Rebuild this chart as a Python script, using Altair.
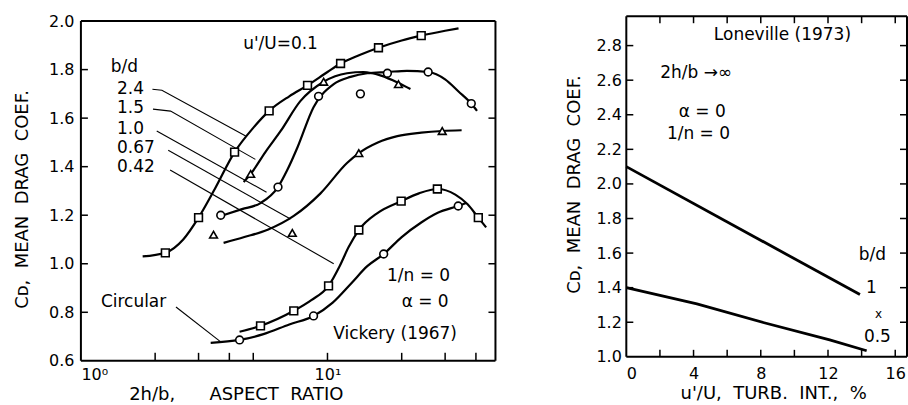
import altair as alt
import pandas as pd

FONT = "DejaVu Sans"
NB = "\u00a0"  # non-collapsing space used to widen the lettering gaps

# ======================= LEFT PANEL : Vickery (1967) =======================
# smooth fitted curves  (2h/b aspect ratio, mean drag coefficient)
c24_ar = [1.78, 2.2, 2.6, 3.0, 3.5, 4.2, 5.0, 5.8, 7.0, 8.3, 10.0, 11.3, 13.5, 16.1, 20.0, 24.0, 30.0, 34.0]
c24_cd = [1.03, 1.045, 1.10, 1.19, 1.31, 1.46, 1.56, 1.63, 1.69, 1.735, 1.79, 1.825, 1.86, 1.89, 1.92, 1.94, 1.96, 1.97]
c15_ar = [4.57, 4.88, 5.6, 6.45, 7.76, 9.65, 12.0, 14.0, 16.5, 19.4, 21.7]
c15_cd = [1.337, 1.37, 1.46, 1.546, 1.67, 1.75, 1.785, 1.79, 1.775, 1.745, 1.72]
c10_ar = [3.69, 4.5, 5.35, 6.3, 6.9, 7.56, 8.78, 10.6, 12.4, 14.5, 17.5, 21.0, 25.6, 30.0, 34.0, 38.3, 40.4]
c10_cd = [1.197, 1.225, 1.25, 1.316, 1.39, 1.48, 1.645, 1.74, 1.77, 1.785, 1.79, 1.795, 1.79, 1.76, 1.71, 1.66, 1.63]
c067_ar = [3.79, 4.6, 5.72, 7.3, 9.37, 12.0, 13.4, 16.0, 19.2, 24.0, 29.2, 35.0]
c067_cd = [1.086, 1.11, 1.14, 1.197, 1.29, 1.415, 1.456, 1.50, 1.526, 1.54, 1.547, 1.55]
c042_ar = [4.4, 5.35, 7.3, 8.6, 10.1, 11.2, 12.2, 13.4, 16.0, 19.9, 23.5, 27.9, 33.0, 37.0, 40.9, 44.0]
c042_cd = [0.72, 0.744, 0.806, 0.85, 0.909, 0.99, 1.07, 1.139, 1.21, 1.258, 1.29, 1.308, 1.285, 1.245, 1.19, 1.15]
ccirc_ar = [3.36, 4.4, 5.5, 7.0, 8.78, 10.5, 12.5, 14.5, 16.9, 20.0, 24.0, 28.0, 33.9, 36.5]
ccirc_cd = [0.674, 0.686, 0.71, 0.75, 0.785, 0.84, 0.92, 0.99, 1.04, 1.11, 1.17, 1.21, 1.238, 1.25]

# measured points (open symbols)
sq_ar = [2.2, 3.0, 4.2, 5.8, 8.3, 11.3, 16.1, 24.0, 5.35, 7.3, 10.1, 13.4, 19.9, 27.9, 40.9]
sq_cd = [1.045, 1.19, 1.46, 1.63, 1.735, 1.825, 1.89, 1.94, 0.744, 0.806, 0.909, 1.139, 1.258, 1.308, 1.19]
tri_ar = [4.88, 9.65, 19.4, 3.45, 7.2, 13.4, 29.2]
tri_cd = [1.37, 1.75, 1.74, 1.12, 1.127, 1.456, 1.547]
cir_ar = [3.69, 6.3, 9.2, 13.6, 17.5, 25.6, 38.3, 4.4, 8.78, 16.9, 33.9]
cir_cd = [1.2, 1.316, 1.69, 1.70, 1.785, 1.79, 1.66, 0.686, 0.785, 1.04, 1.238]

# b/d labels and their leader lines
bd_labels = ["2.4", "1.5", "1.0", "0.67", "0.42"]
bd_lab_ar = [1.40, 1.40, 1.40, 1.40, 1.40]
bd_lab_cd = [1.719, 1.641, 1.555, 1.477, 1.398]
lead_id = ["2.4", "2.4", "2.4", "1.5", "1.5", "1.5", "1.0", "1.0", "0.67", "0.67", "0.42", "0.42", "circ", "circ"]
lead_ar = [1.95, 2.13, 4.66, 1.96, 2.31, 5.1, 2.03, 5.66, 2.26, 7.08, 2.3, 10.6, 2.43, 3.69]
lead_cd = [1.719, 1.715, 1.526, 1.637, 1.629, 1.43, 1.547, 1.295, 1.468, 1.184, 1.386, 1.0, 0.822, 0.678]

# other annotations in the left panel
ltxt_left = ["b/d", "Circular"]
ltxt_left_ar = [1.32, 1.205]
ltxt_left_cd = [1.81, 0.843]
ltxt_mid = ["u'/U=0.1", "1/n = 0", "α = 0", "Vickery (1967)"]
ltxt_mid_ar = [6.45, 23.4, 24.9, 18.8]
ltxt_mid_cd = [1.905, 0.95, 0.843, 0.711]

L_AR = [1, 48]
L_CD = [0.6, 2.02]
L_FRAME_TOP = 2.0
l_xticks = [2, 3, 4, 5, 10, 20, 30, 40]
l_yticks = [0.8, 1.0, 1.2, 1.4, 1.6, 1.8]
l_ylabels = [0.6, 0.8, 1.0, 1.2, 1.4, 1.6, 1.8, 2.0]

# ======================= RIGHT PANEL : Laneville (1973) =======================
r1_ti = [0.0, 13.9]
r1_cd = [2.10, 1.36]
r05_ti = [0.0, 4.2, 8.2, 12.1, 14.3]
r05_cd = [1.40, 1.306, 1.197, 1.098, 1.035]

rtxt_center = ["Loneville (1973)", "α = 0", "1/n = 0", "b/d", "1", "x", "0.5"]
rtxt_center_ti = [9.29, 4.52, 4.29, 14.64, 14.58, 15.0, 14.94]
rtxt_center_cd = [2.863, 2.418, 2.29, 1.59, 1.40, 1.25, 1.116]
rtxt_center_fs = [17, 17, 17, 17, 17, 12, 17]
rtxt_left = ["2h/b →∞"]
rtxt_left_ti = [2.02]
rtxt_left_cd = [2.643]

R_TI = [0, 16.7]
R_CD = [1.0, 2.97]
r_xticks = [2, 4, 6, 8, 10, 12, 14, 16]
r_yticks = [1.2, 1.4, 1.6, 1.8, 2.0, 2.2, 2.4, 2.6, 2.8]
r_xlabels = [0, 4, 8, 12, 16]
r_ylabels = [1.0, 1.2, 1.4, 1.6, 1.8, 2.0, 2.2, 2.4, 2.6, 2.8]

LW, LH = 415, 345
RW, RH = 281, 341

L_XTITLE = "2h/b," + NB * 5 + " ASPECT" + NB + " RATIO"
YTITLE = "Cᴅ," + NB + " MEAN" + NB + " DRAG" + NB + " COEF."
R_XTITLE = "u'/U," + NB + " TURB." + NB + " INT.," + NB + " %"

# ---------------- data tables ----------------
curves = []
for name, xs, ys in [("2.4", c24_ar, c24_cd), ("1.5", c15_ar, c15_cd), ("1.0", c10_ar, c10_cd),
                     ("0.67", c067_ar, c067_cd), ("0.42", c042_ar, c042_cd), ("circ", ccirc_ar, ccirc_cd)]:
    for i, (a, c) in enumerate(zip(xs, ys)):
        curves.append({"series": name, "ar": a, "cd": c, "o": i})
curves = pd.DataFrame(curves)

pts = pd.DataFrame(
    [{"ar": a, "cd": c, "shape": "square"} for a, c in zip(sq_ar, sq_cd)]
    + [{"ar": a, "cd": c, "shape": "triangle-up"} for a, c in zip(tri_ar, tri_cd)]
    + [{"ar": a, "cd": c, "shape": "circle"} for a, c in zip(cir_ar, cir_cd)]
)
leads = pd.DataFrame({"lid": lead_id, "ar": lead_ar, "cd": lead_cd, "o": list(range(len(lead_id)))})
bdlab = pd.DataFrame({"t": bd_labels, "ar": bd_lab_ar, "cd": bd_lab_cd})
ltl = pd.DataFrame({"t": ltxt_left, "ar": ltxt_left_ar, "cd": ltxt_left_cd})
ltm = pd.DataFrame({"t": ltxt_mid, "ar": ltxt_mid_ar, "cd": ltxt_mid_cd})
lframe = pd.DataFrame({
    "ar": [L_AR[0], L_AR[0], L_AR[0], L_AR[1]],
    "ar2": [L_AR[1], L_AR[1], L_AR[0], L_AR[1]],
    "cd": [L_CD[0], L_FRAME_TOP, L_CD[0], L_CD[0]],
    "cd2": [L_CD[0], L_FRAME_TOP, L_FRAME_TOP, L_FRAME_TOP],
})
lxt = pd.DataFrame({"ar": l_xticks})
lyt = pd.DataFrame({"cd": l_yticks})


def LX(field="ar"):
    return alt.X(f"{field}:Q",
                 scale=alt.Scale(type="log", domain=L_AR, nice=False, zero=False),
                 axis=alt.Axis(values=[1, 10], labelExpr="datum.value == 1 ? '10⁰' : '10¹'",
                               title=L_XTITLE, titleX=155, titleY=34,
                               titleAlign="center", titleBaseline="middle",
                               labelFlush=True, labelPadding=6))


def LY(field="cd"):
    return alt.Y(f"{field}:Q",
                 scale=alt.Scale(domain=L_CD, nice=False, zero=False),
                 axis=alt.Axis(values=l_ylabels, format=".1f",
                               title=YTITLE, titleX=-58, titleY=183,
                               titleAlign="center", titleBaseline="middle", titleAngle=270,
                               labelPadding=7))


l_frame = alt.Chart(lframe).mark_rule(color="black", strokeWidth=2).encode(
    x=LX("ar"), x2="ar2:Q", y=LY("cd"), y2="cd2:Q")
l_xtick = alt.Chart(lxt).mark_rule(color="black", strokeWidth=1.5).encode(
    x=LX("ar"), y=alt.value(LH), y2=alt.value(LH - 8))
l_ytick_l = alt.Chart(lyt).mark_rule(color="black", strokeWidth=1.5).encode(
    y=LY("cd"), x=alt.value(0), x2=alt.value(7))
l_ytick_r = alt.Chart(lyt).mark_rule(color="black", strokeWidth=1.5).encode(
    y=LY("cd"), x=alt.value(LW - 7), x2=alt.value(LW))
l_curves = alt.Chart(curves).mark_line(color="black", strokeWidth=2.2, interpolate="monotone").encode(
    x=LX("ar"), y=LY("cd"), detail="series:N", order="o:Q")
l_leads = alt.Chart(leads).mark_line(color="black", strokeWidth=1.1).encode(
    x=LX("ar"), y=LY("cd"), detail="lid:N", order="o:Q")
l_pts = alt.Chart(pts).mark_point(filled=False, fill="white", fillOpacity=1, color="black",
                                  strokeWidth=1.6, size=60, opacity=1).encode(
    x=LX("ar"), y=LY("cd"), shape=alt.Shape("shape:N", scale=None))
l_bd = alt.Chart(bdlab).mark_text(align="left", baseline="middle", font=FONT, fontSize=17,
                                  color="black").encode(x=LX("ar"), y=LY("cd"), text="t:N")
l_tl = alt.Chart(ltl).mark_text(align="left", baseline="middle", font=FONT, fontSize=17,
                                color="black").encode(x=LX("ar"), y=LY("cd"), text="t:N")
l_tm = alt.Chart(ltm).mark_text(align="center", baseline="middle", font=FONT, fontSize=17,
                                color="black").encode(x=LX("ar"), y=LY("cd"), text="t:N")

left = alt.layer(l_frame, l_xtick, l_ytick_l, l_ytick_r, l_leads, l_curves, l_pts,
                 l_bd, l_tl, l_tm).properties(width=LW, height=LH)

# ---------------- right panel ----------------
rlines = pd.DataFrame(
    [{"bd": "1", "ti": t, "cd2v": c} for t, c in zip(r1_ti, r1_cd)]
    + [{"bd": "0.5", "ti": t, "cd2v": c} for t, c in zip(r05_ti, r05_cd)]
)
rtc = pd.DataFrame({"t": rtxt_center, "ti": rtxt_center_ti, "cd2v": rtxt_center_cd, "fs": rtxt_center_fs})
rtl = pd.DataFrame({"t": rtxt_left, "ti": rtxt_left_ti, "cd2v": rtxt_left_cd})
rframe = pd.DataFrame({
    "ti": [R_TI[0], R_TI[0], R_TI[0], R_TI[1]],
    "ti2": [R_TI[1], R_TI[1], R_TI[0], R_TI[1]],
    "cd2v": [R_CD[0], R_CD[1], R_CD[0], R_CD[0]],
    "cd2v2": [R_CD[0], R_CD[1], R_CD[1], R_CD[1]],
})
rxt = pd.DataFrame({"ti": r_xticks})
ryt = pd.DataFrame({"cd2v": r_yticks})


def RX(field="ti"):
    return alt.X(f"{field}:Q", scale=alt.Scale(domain=R_TI, nice=False, zero=False),
                 axis=alt.Axis(values=r_xlabels, format="d",
                               title=R_XTITLE, titleX=147, titleY=37,
                               titleAlign="center", titleBaseline="middle", labelPadding=9))


def RY(field="cd2v"):
    return alt.Y(f"{field}:Q", scale=alt.Scale(domain=R_CD, nice=False, zero=False),
                 axis=alt.Axis(values=r_ylabels, format=".1f",
                               title=YTITLE, titleX=-52, titleY=168,
                               titleAlign="center", titleBaseline="middle", titleAngle=270,
                               labelPadding=5))


r_frame = alt.Chart(rframe).mark_rule(color="black", strokeWidth=2).encode(
    x=RX("ti"), x2="ti2:Q", y=RY("cd2v"), y2="cd2v2:Q")
r_xtick_b = alt.Chart(rxt).mark_rule(color="black", strokeWidth=1.5).encode(
    x=RX("ti"), y=alt.value(RH), y2=alt.value(RH - 7))
r_xtick_t = alt.Chart(rxt).mark_rule(color="black", strokeWidth=1.5).encode(
    x=RX("ti"), y=alt.value(0), y2=alt.value(7))
r_ytick_l = alt.Chart(ryt).mark_rule(color="black", strokeWidth=1.5).encode(
    y=RY("cd2v"), x=alt.value(0), x2=alt.value(7))
r_ytick_r = alt.Chart(ryt).mark_rule(color="black", strokeWidth=1.5).encode(
    y=RY("cd2v"), x=alt.value(RW - 7), x2=alt.value(RW))
r_lines = alt.Chart(rlines).mark_line(color="black", strokeWidth=2.8).encode(
    x=RX("ti"), y=RY("cd2v"), detail="bd:N")
r_tc = alt.Chart(rtc).mark_text(align="center", baseline="middle", font=FONT, color="black").encode(
    x=RX("ti"), y=RY("cd2v"), text="t:N", size=alt.Size("fs:Q", scale=None, legend=None))
r_tl = alt.Chart(rtl).mark_text(align="left", baseline="middle", font=FONT, fontSize=17,
                                color="black").encode(x=RX("ti"), y=RY("cd2v"), text="t:N")

right = alt.layer(r_frame, r_xtick_b, r_xtick_t, r_ytick_l, r_ytick_r, r_lines, r_tc, r_tl
                  ).properties(width=RW, height=RH)

chart = alt.hconcat(left, right, spacing=131, bounds="flush").resolve_scale(
    x="independent", y="independent"
).properties(
    padding={"left": 14, "top": 12, "right": 0, "bottom": 2},
    background="white",
).configure_view(stroke=None).configure_axis(
    grid=False, domain=False, ticks=False,
    labelFont=FONT, labelFontSize=16, labelColor="black",
    titleFont=FONT, titleFontSize=18, titleFontWeight="normal", titleColor="black",
)

chart.save("out.html", embed_options={"renderer": "svg", "actions": False})
